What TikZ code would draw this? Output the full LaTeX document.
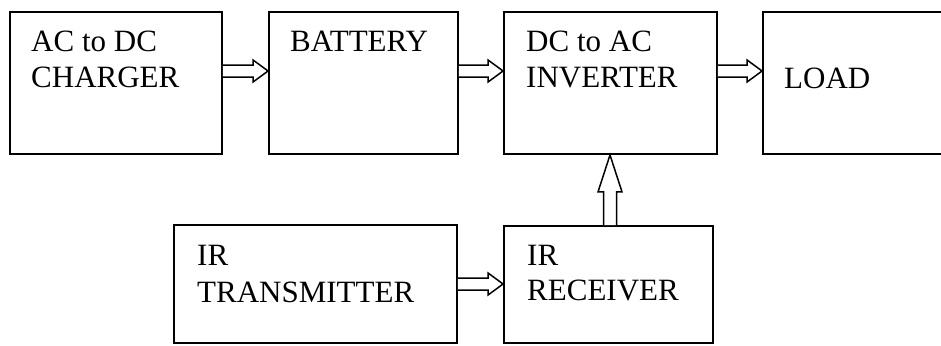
\documentclass[tikz,border=0pt]{standalone}
\usepackage{fontspec}
\setmainfont{Liberation Serif}
\usetikzlibrary{calc}
\tikzset{
  blockbox/.style={draw, line width=1.9pt, inner sep=0pt, minimum height=142pt},
  lbl/.style={anchor=base west, inner sep=0pt, font=\fontsize{31}{35}\selectfont},
  hollow/.style={draw, fill=white, line width=1.5pt, line join=miter}
}
\newcommand\hollowh[3]{%
  \draw[hollow] let \p1=(#1.east), \p2=(#2.west) in
    (\x1,\y1+#3+6pt) -- (\x2-15pt,\y1+#3+6pt) -- (\x2-15pt,\y1+#3+11pt) --
    (\x2,\y1+#3) -- (\x2-15pt,\y1+#3-11pt) -- (\x2-15pt,\y1+#3-6pt) --
    (\x1,\y1+#3-6pt);}
\begin{document}
\begin{tikzpicture}[x=1pt,y=-1pt]
\useasboundingbox (0,0) rectangle (941,345);
\clip (0,0) rectangle (941,345);
\fill[white] (0,0) rectangle (941,345);
% blocks
\node[blockbox, minimum width=212pt] (charger) at (116,83) {};
\node[blockbox, minimum width=189pt] (battery) at (363.5,83) {};
\node[blockbox, minimum width=213pt] (inverter) at (610.5,83) {};
\node[blockbox, minimum width=197pt] (load) at (861.5,83) {};
\node[blockbox, minimum width=283pt, minimum height=118pt] (tx) at (315.5,284) {};
\node[blockbox, minimum width=209pt, minimum height=117pt] (rx) at (608.5,284.5) {};
% labels
\node[lbl] (l1a) at (31,52) {AC to DC};
\node[lbl] (l1b) at (31,87) {CHARGER};
\node[lbl] (l2) at (290,52) {BATTERY};
\node[lbl] (l3a) at (526,52) {DC to AC};
\node[lbl] (l3b) at (526,87) {INVERTER};
\node[lbl] (l4) at (784,88) {LOAD};
\node[lbl] (l5a) at (197,265) {IR};
\node[lbl] (l5b) at (197,302) {TRANSMITTER};
\node[lbl] (l6a) at (527,265) {IR};
\node[lbl] (l6b) at (527,300) {RECEIVER};
% hollow arrows
\hollowh{charger}{battery}{12pt}
\hollowh{battery}{inverter}{12pt}
\hollowh{inverter}{load}{12pt}
\hollowh{tx}{rx}{0pt}
\draw[hollow] let \p1=(rx.north), \p2=(inverter.south) in
  (\x2-0.5pt-6.5pt,\y1) -- (\x2-0.5pt-6.5pt,\y2-37pt) -- (\x2-0.5pt-12pt,\y2-37pt) --
  (\x2-0.5pt,\y2) -- (\x2-0.5pt+12pt,\y2-37pt) -- (\x2-0.5pt+6.5pt,\y2-37pt) --
  (\x2-0.5pt+6.5pt,\y1);
\end{tikzpicture}
\end{document}
